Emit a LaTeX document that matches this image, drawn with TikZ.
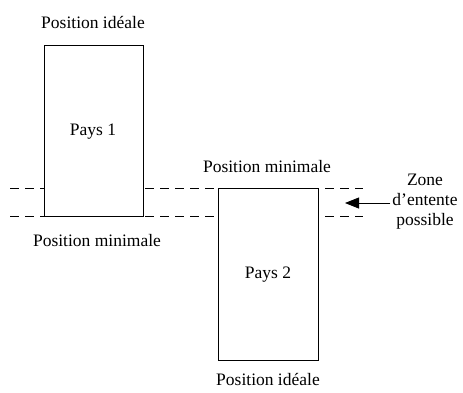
\documentclass[tikz,border=0pt]{standalone}
\usepackage{fontspec}
\setmainfont{Liberation Serif}
\usetikzlibrary{arrows.meta}
\begin{document}
\begin{tikzpicture}[x=1pt,y=-1pt,
  lbl/.style={font=\fontsize{17.5}{20}\selectfont, inner sep=0pt},
  bar/.style={draw=black, line width=0.9pt},
  dline/.style={draw=black, line width=0.8pt, dash pattern=on 9pt off 6pt},
  arr/.style={draw=black, line width=0.8pt, -{Triangle[length=14pt,width=11pt]}}]
\useasboundingbox (0,0) rectangle (463,392);
% dashed lines
\coordinate (d1a) at (10,188); \coordinate (d1b) at (363,188);
\coordinate (d2a) at (10,216); \coordinate (d2b) at (363,216);
\draw[dline] (d1a) -- (d1b);
\draw[dline] (d2a) -- (d2b);
% boxes
\node[bar, fill=white, minimum width=99pt, minimum height=171pt, inner sep=0pt, anchor=north west] (p1) at (44,45) {};
\node[bar, fill=white, minimum width=100pt, minimum height=172pt, inner sep=0pt, anchor=north west] (p2) at (218,188) {};
\node[lbl] (t1) at (93,132) {Pays 1};
\node[lbl] (t2) at (268,275) {Pays 2};
\node[lbl] (i1) at (93,22) {Position idéale};
\node[lbl] (m1) at (97,241) {Position minimale};
\node[lbl] (m2) at (267,167) {Position minimale};
\node[lbl] (i2) at (268,379) {Position idéale};
\node[lbl, align=center, font=\fontsize{17.5}{20}\selectfont] (z) at (425,202) {Zone\\d’entente\\possible};
\coordinate (tip) at (345,203);
\draw[arr] (z.west |- tip) ++(-2,0) coordinate (zs) (zs) -- (tip);
\end{tikzpicture}
\end{document}
